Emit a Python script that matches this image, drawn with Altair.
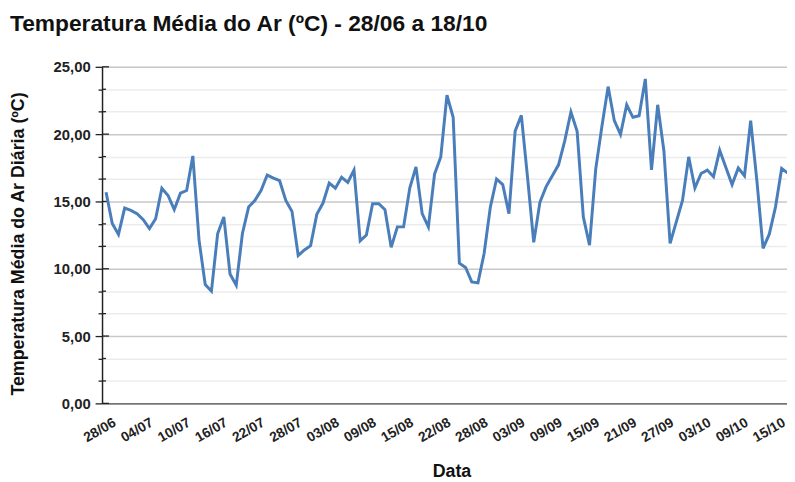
import altair as alt
import pandas as pd

FONT = "Liberation Sans"

temperatura = [
    15.68, 13.36, 12.55, 14.51, 14.34, 14.09, 13.65, 12.99, 13.72, 15.98,
    15.44, 14.39, 15.61, 15.81, 18.38, 12.13, 8.82, 8.33, 12.60, 13.85,
    9.61, 8.77, 12.62, 14.58, 15.07, 15.81, 16.96, 16.74, 16.54, 15.07,
    14.26, 10.98, 11.40, 11.72, 14.04, 14.88, 16.37, 15.98, 16.79, 16.42,
    17.33, 12.08, 12.50, 14.83, 14.83, 14.39, 11.59, 13.11, 13.11, 16.00,
    17.57, 14.09, 13.11, 17.03, 18.31, 22.90, 21.25, 10.42, 10.10, 9.02,
    8.95, 11.15, 14.58, 16.67, 16.25, 14.09, 20.22, 21.40, 16.79, 11.96,
    14.95, 16.10, 16.91, 17.72, 19.50, 21.64, 20.22, 13.85, 11.76, 17.40,
    20.59, 23.53, 21.00, 19.98, 22.18, 21.25, 21.37, 24.10, 17.35, 22.18,
    18.75, 11.89, 13.48, 15.07, 18.31, 16.00, 17.08, 17.33, 16.84, 18.80,
    17.52, 16.25, 17.48, 16.91, 21.00, 16.54, 11.52, 12.57, 14.58, 17.45,
    17.10,
]

rotulos_x = ["28/06", "04/07", "10/07", "16/07", "22/07", "28/07", "03/08",
             "09/08", "15/08", "22/08", "28/08", "03/09", "09/09", "15/09",
             "21/09", "27/09", "03/10", "09/10", "15/10"]

df = pd.DataFrame({"dia": list(range(len(temperatura))), "temp": temperatura})

x_ticks = [6 * i for i in range(len(rotulos_x))]
y_vals = [(i * 5) / 3 for i in range(16)]
label_arr = "[" + ",".join("'%s'" % s for s in rotulos_x) + "]"

ticks_df = pd.DataFrame({"temp": y_vals})
ticks_df["major"] = [i % 3 == 0 for i in range(16)]

y_scale = alt.Scale(domain=[0, 25], nice=False)
x_scale = alt.Scale(domain=[-0.65, 109.86], nice=False, zero=False)

Y_TITLE = "Temperatura Média do Ar Diária (ºC)"


def y_axis():
    return alt.Axis(
        title=Y_TITLE,
        values=y_vals,
        labelExpr="datum.value % 5 == 0 ? replace(format(datum.value, '.2f'), '.', ',') : ''",
        labelFont=FONT,
        labelFontSize=15,
        labelFontWeight="bold",
        labelColor="#222222",
        labelPadding=5,
        labelOverlap=False,
        tickColor="#222222",
        tickSize={"condition": {"test": "datum.value % 5 == 0", "value": 7}, "value": 4},
        tickWidth=1.3,
        domainColor="#222222",
        domainWidth=1.5,
        gridColor={"condition": {"test": "datum.value % 5 == 0", "value": "#c8c8c8"}, "value": "#ececec"},
        gridWidth=1.5,
        titleFont=FONT,
        titleFontSize=18,
        titleFontWeight="bold",
        titleColor="#111111",
        titleAngle=270,
        titleAlign="center",
        titleBaseline="middle",
        titleX=-84.5,
        titleY=178.5,
    )


line = alt.Chart(df).mark_line(color="#4a7ebb", strokeWidth=3, clip=True).encode(
    x=alt.X(
        "dia:Q",
        scale=x_scale,
        axis=alt.Axis(
            title="Data",
            values=x_ticks,
            labelExpr=label_arr + "[round(datum.value/6)]",
            labelAngle=-30,
            labelAlign="right",
            labelBaseline="top",
            labelFont=FONT,
            labelFontSize=14,
            labelFontWeight="bold",
            labelColor="#222222",
            labelPadding=12,
            labelOffset=5,
            labelOverlap=False,
            labelBound=False,
            labelFlush=False,
            ticks=False,
            grid=False,
            domainColor="#555555",
            domainWidth=1.5,
            titleFont=FONT,
            titleFontSize=18,
            titleFontWeight="bold",
            titleColor="#111111",
            titleBaseline="middle",
            titleAlign="center",
            titleX=353,
            titleY=69,
        ),
    ),
    y=alt.Y("temp:Q", scale=y_scale, axis=y_axis(), title=Y_TITLE),
)

inner_major = alt.Chart(ticks_df).transform_filter("datum.major").mark_rule(
    color="#222222", strokeWidth=1.3
).encode(y=alt.Y("temp:Q", scale=y_scale, axis=y_axis(), title=Y_TITLE), x=alt.value(0), x2=alt.value(7))

inner_minor = alt.Chart(ticks_df).transform_filter("!datum.major").mark_rule(
    color="#222222", strokeWidth=1.3
).encode(y=alt.Y("temp:Q", scale=y_scale, axis=y_axis(), title=Y_TITLE), x=alt.value(0), x2=alt.value(4))

chart = alt.layer(inner_major, inner_minor, line).properties(
    width=692,
    height=340,
    autosize=alt.AutoSizeParams(type="none"),
    padding={"left": 95, "top": 57, "right": 0, "bottom": 77},
    title=alt.TitleParams(
        "Temperatura Média do Ar (ºC) - 28/06 a 18/10",
        anchor="start",
        frame="group",
        font=FONT,
        fontSize=23,
        fontWeight="bold",
        color="#111111",
        baseline="alphabetic",
        offset=6,
        dx=-93,
    ),
).configure_view(stroke=None).configure(background="white")

chart.save("out.html", embed_options={"renderer": "svg", "actions": False})
